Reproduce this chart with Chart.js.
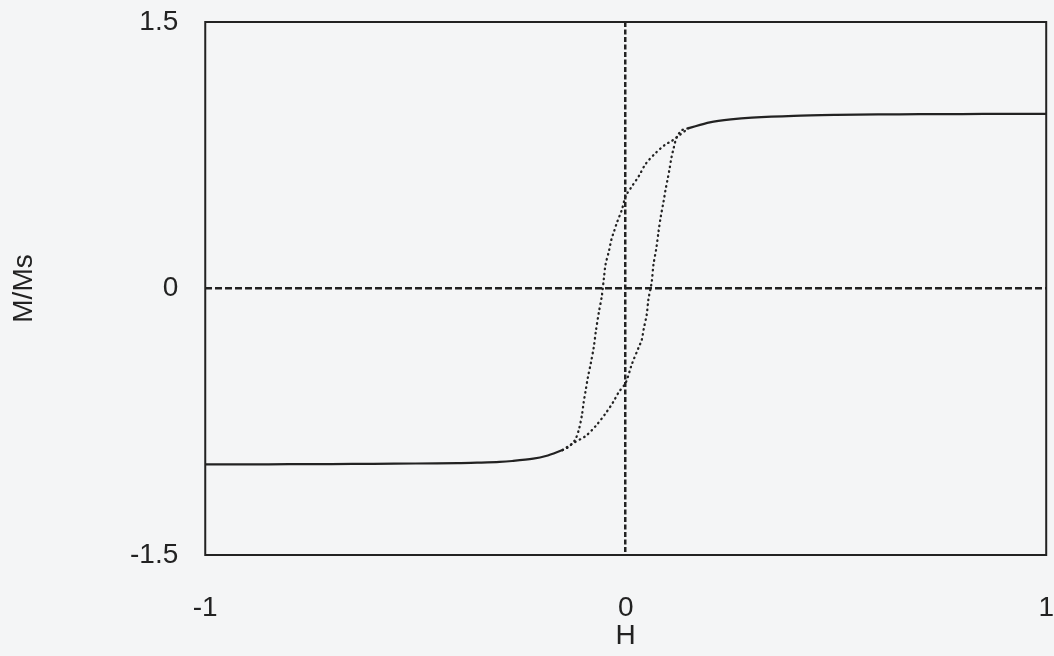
<!DOCTYPE html>
<html>
<head>
<meta charset="utf-8">
<script src="https://cdn.jsdelivr.net/npm/chart.js@4"></script>
<style>
  html, body { margin: 0; padding: 0; background: #f4f5f6; }
  #wrap { width: 1054px; height: 656px; }
</style>
</head>
<body>
<div id="wrap"><canvas id="loopChart"></canvas></div>
<script>
// saturated parts of the loop (drawn solid)
const upperSatH = [0.15, 0.2, 0.25, 0.3, 0.4, 0.5, 0.6, 0.7, 0.8, 0.9, 1.0];
const upperSatM = [0.903, 0.935, 0.952, 0.962, 0.972, 0.977, 0.98, 0.981, 0.982, 0.983, 0.983];
const lowerSatH = [-1.0, -0.9, -0.8, -0.7, -0.6, -0.5, -0.4, -0.35, -0.3, -0.27, -0.22, -0.19, -0.15];
const lowerSatM = [-0.99, -0.99, -0.989, -0.988, -0.987, -0.985, -0.983, -0.98, -0.976, -0.971, -0.958, -0.943, -0.909];

// switching branches (drawn dotted)
const downH = [0.15, 0.126, 0.109, 0.094, 0.07, 0.047, 0.031, 0.015, 0.0, -0.009, -0.021, -0.028, -0.034, -0.04, -0.048, -0.052, -0.057, -0.064, -0.071, -0.076, -0.083, -0.09, -0.095, -0.1, -0.104, -0.111, -0.12, -0.135, -0.15];
const downM = [0.903, 0.86, 0.83, 0.81, 0.76, 0.70, 0.632, 0.576, 0.52, 0.445, 0.37, 0.32, 0.276, 0.21, 0.135, 0.056, -0.045, -0.135, -0.24, -0.33, -0.42, -0.50, -0.57, -0.64, -0.71, -0.79, -0.85, -0.89, -0.909];
const upH = [-0.15, -0.125, -0.095, -0.07, -0.047, -0.03, -0.017, 0.0, 0.014, 0.031, 0.038, 0.043, 0.05, 0.054, 0.059, 0.062, 0.066, 0.073, 0.078, 0.083, 0.09, 0.095, 0.1, 0.104, 0.109, 0.114, 0.121, 0.133, 0.15];
const upM = [-0.909, -0.87, -0.83, -0.77, -0.70, -0.64, -0.585, -0.53, -0.43, -0.33, -0.29, -0.225, -0.146, -0.06, 0.0, 0.04, 0.135, 0.23, 0.32, 0.40, 0.49, 0.56, 0.62, 0.67, 0.74, 0.79, 0.85, 0.89, 0.903];

const xTicks = [-1, 0, 1];
const yTicks = [-1.5, 0, 1.5];

const ink = '#222';
const font = { family: "'Liberation Sans', Arial, sans-serif", size: 28, lineHeight: 1 };

function pts(xs, ys) {
  return xs.map((x, i) => ({ x: x, y: ys[i] }));
}

const solid = { borderColor: ink, borderWidth: 2.2, pointRadius: 0, showLine: true, tension: 0.3 };
const dotted = { borderColor: ink, borderWidth: 2.3, pointRadius: 0, showLine: true, tension: 0.3,
                 borderDash: [0.5, 4.5], borderCapStyle: 'round' };

// solid box around the plot area
const frame = {
  id: 'frame',
  afterDraw(chart) {
    const a = chart.chartArea, c = chart.ctx;
    c.save();
    c.strokeStyle = ink;
    c.lineWidth = 2;
    c.strokeRect(a.left, a.top, a.right - a.left, a.bottom - a.top);
    c.restore();
  }
};

const zeroOnly = ctx => ctx.tick && ctx.tick.value === 0 ? ink : 'transparent';

new Chart(document.getElementById('loopChart'), {
  type: 'scatter',
  data: {
    datasets: [
      Object.assign({ data: pts(upperSatH, upperSatM) }, solid),
      Object.assign({ data: pts(lowerSatH, lowerSatM) }, solid),
      Object.assign({ data: pts(downH, downM) }, dotted),
      Object.assign({ data: pts(upH, upM) }, dotted)
    ]
  },
  options: {
    responsive: true,
    maintainAspectRatio: false,
    animation: false,
    layout: { padding: { top: 22, right: 6, bottom: 4, left: 10 } },
    plugins: { legend: { display: false }, tooltip: { enabled: false } },
    scales: {
      x: {
        type: 'linear',
        min: -1, max: 1,
        afterBuildTicks: axis => { axis.ticks = xTicks.map(v => ({ value: v })); },
        ticks: { color: ink, font: font, padding: 0, maxRotation: 0 },
        // long invisible tick marks push the labels down
        grid: { color: zeroOnly, lineWidth: 2.5, drawTicks: true, tickLength: 39, tickColor: 'transparent' },
        border: { display: false, dash: [5, 2.5] },
        title: { display: true, text: 'H', color: ink, font: font, padding: { top: 0, bottom: 2 } }
      },
      y: {
        min: -1.5, max: 1.5,
        afterBuildTicks: axis => { axis.ticks = yTicks.map(v => ({ value: v })); },
        ticks: { color: ink, font: font, padding: 0 },
        grid: { color: zeroOnly, lineWidth: 2.5, drawTicks: true, tickLength: 27, tickColor: 'transparent' },
        border: { display: false, dash: [7, 3] },
        title: { display: true, text: 'M/Ms', color: ink, font: font, padding: { top: 0, bottom: 92 } }
      }
    }
  },
  plugins: [frame]
});
</script>
</body>
</html>
